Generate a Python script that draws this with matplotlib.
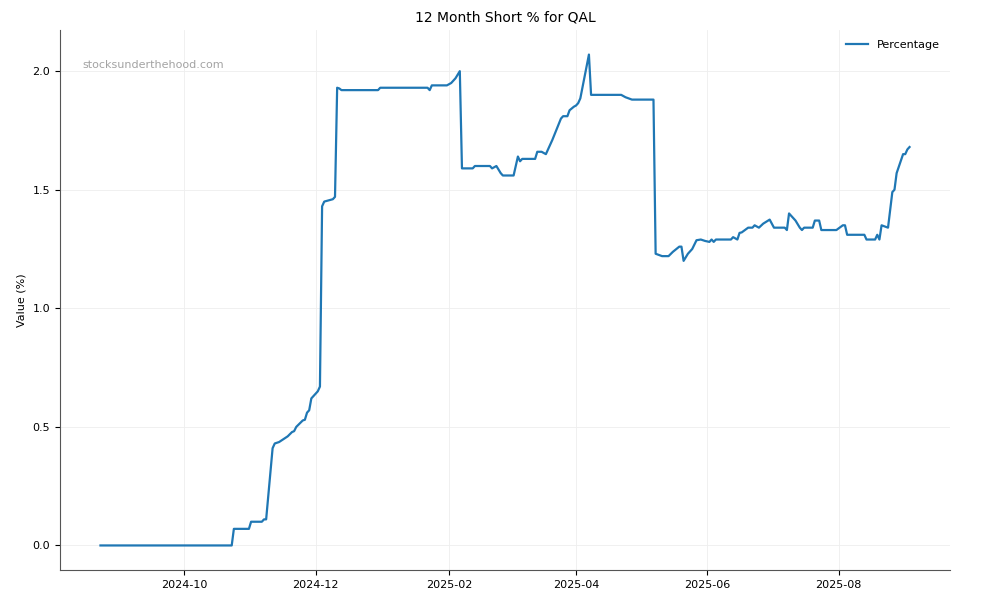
import pandas as pd
import matplotlib.pyplot as plt
import matplotlib.dates as mdates

# short position readings (date, % of shares)
dates = [
    "2024-08-23", "2024-10-23", "2024-10-24", "2024-10-31", "2024-11-01", "2024-11-06",
    "2024-11-07", "2024-11-08", "2024-11-11", "2024-11-12", "2024-11-14", "2024-11-18",
    "2024-11-20", "2024-11-21", "2024-11-22", "2024-11-25", "2024-11-26", "2024-11-27",
    "2024-11-28", "2024-11-29", "2024-11-30", "2024-12-02", "2024-12-03", "2024-12-04",
    "2024-12-05", "2024-12-09", "2024-12-10", "2024-12-11", "2024-12-12", "2024-12-13",
    "2024-12-30", "2024-12-31", "2025-01-22", "2025-01-23", "2025-01-24", "2025-01-31",
    "2025-02-02", "2025-02-04", "2025-02-06", "2025-02-07", "2025-02-12", "2025-02-13",
    "2025-02-20", "2025-02-21", "2025-02-23", "2025-02-25", "2025-02-26", "2025-03-03",
    "2025-03-05", "2025-03-06", "2025-03-07", "2025-03-13", "2025-03-14", "2025-03-16",
    "2025-03-18", "2025-03-19", "2025-03-21", "2025-03-25", "2025-03-26", "2025-03-28",
    "2025-03-29", "2025-03-31", "2025-04-01", "2025-04-02", "2025-04-03", "2025-04-07",
    "2025-04-08", "2025-04-22", "2025-04-24", "2025-04-27", "2025-05-07", "2025-05-08",
    "2025-05-11", "2025-05-14", "2025-05-16", "2025-05-19", "2025-05-20", "2025-05-21",
    "2025-05-23", "2025-05-25", "2025-05-27", "2025-05-29", "2025-05-31", "2025-06-02",
    "2025-06-03", "2025-06-04", "2025-06-05", "2025-06-12", "2025-06-13", "2025-06-15",
    "2025-06-16", "2025-06-17", "2025-06-20", "2025-06-22", "2025-06-23", "2025-06-25",
    "2025-06-27", "2025-06-30", "2025-07-02", "2025-07-07", "2025-07-08", "2025-07-09",
    "2025-07-12", "2025-07-14", "2025-07-15", "2025-07-16", "2025-07-20", "2025-07-21",
    "2025-07-23", "2025-07-24", "2025-07-31", "2025-08-03", "2025-08-04", "2025-08-05",
    "2025-08-13", "2025-08-14", "2025-08-18", "2025-08-19", "2025-08-20", "2025-08-21",
    "2025-08-24", "2025-08-26", "2025-08-27", "2025-08-28", "2025-08-31", "2025-09-01",
    "2025-09-02", "2025-09-03",
]
values = [
    0.00, 0.00, 0.07, 0.07, 0.10, 0.10,
    0.11, 0.11, 0.41, 0.43, 0.436, 0.46,
    0.478, 0.482, 0.50, 0.527, 0.53, 0.56,
    0.57, 0.62, 0.63, 0.65, 0.67, 1.43,
    1.45, 1.46, 1.47, 1.93, 1.927, 1.92,
    1.92, 1.93, 1.93, 1.92, 1.94, 1.94,
    1.95, 1.97, 2.00, 1.59, 1.59, 1.60,
    1.60, 1.59, 1.60, 1.57, 1.56, 1.56,
    1.64, 1.62, 1.63, 1.63, 1.66, 1.66,
    1.65, 1.67, 1.71, 1.80, 1.81, 1.81,
    1.835, 1.85, 1.855, 1.865, 1.885, 2.07,
    1.90, 1.90, 1.89, 1.88, 1.88, 1.23,
    1.22, 1.22, 1.238, 1.26, 1.26, 1.20,
    1.23, 1.25, 1.287, 1.29, 1.284, 1.28,
    1.29, 1.28, 1.29, 1.29, 1.30, 1.29,
    1.318, 1.32, 1.34, 1.34, 1.35, 1.34,
    1.357, 1.374, 1.34, 1.34, 1.33, 1.40,
    1.37, 1.34, 1.33, 1.34, 1.34, 1.37,
    1.37, 1.33, 1.33, 1.35, 1.35, 1.31,
    1.31, 1.29, 1.29, 1.31, 1.29, 1.35,
    1.34, 1.49, 1.50, 1.57, 1.65, 1.65,
    1.67, 1.68,
]

df = pd.DataFrame({"date": pd.to_datetime(dates), "value": values})

fig, ax = plt.subplots(figsize=(10, 6), dpi=100)
fig.subplots_adjust(left=0.06, right=0.95, bottom=0.05, top=0.95)

ax.plot(df["date"], df["value"], color="#1f77b4", linewidth=1.6, label="Percentage")

ax.set_title("12 Month Short % for QAL", fontsize=10)
ax.set_ylabel("Value (%)", fontsize=8)
ax.set_yticks([0.0, 0.5, 1.0, 1.5, 2.0])
ax.xaxis.set_major_locator(mdates.MonthLocator(bymonth=[2, 4, 6, 8, 10, 12]))
ax.xaxis.set_major_formatter(mdates.DateFormatter("%Y-%m"))
ax.tick_params(labelsize=8)

ax.grid(True, color="#eeeeee", linewidth=0.6)
ax.spines["top"].set_visible(False)
ax.spines["right"].set_visible(False)
ax.spines["left"].set_color("#555555")
ax.spines["bottom"].set_color("#555555")

ax.text(0.025, 0.935, "stocksunderthehood.com", transform=ax.transAxes,
        fontsize=8, color="#999999", alpha=0.9, va="center")
ax.legend(loc="upper right", frameon=False, fontsize=8)

plt.savefig("out.png", dpi=100)
